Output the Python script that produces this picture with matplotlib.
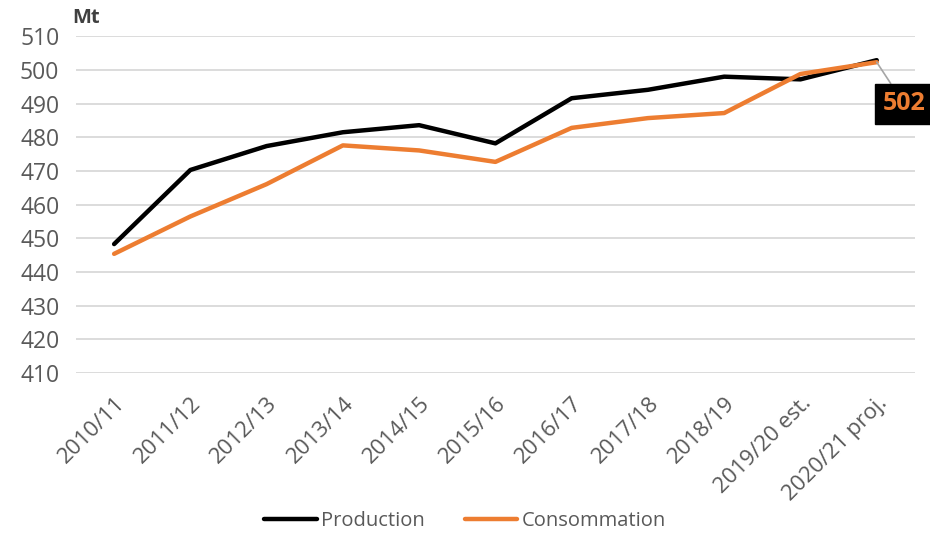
import matplotlib
matplotlib.use("Agg")
import matplotlib.pyplot as plt

categories = ["2010/11", "2011/12", "2012/13", "2013/14", "2014/15", "2015/16",
              "2016/17", "2017/18", "2018/19", "2019/20 est.", "2020/21 proj."]
production = [448.3, 470.3, 477.4, 481.5, 483.6, 478.2, 491.6, 494.1, 498.0, 497.2, 502.9]
consommation = [445.4, 456.5, 466.1, 477.6, 476.1, 472.7, 482.8, 485.7, 487.2, 498.8, 502.3]
yticks = list(range(410, 520, 10))
label_text = "502"

plt.rcParams['font.family'] = ['Open Sans', 'DejaVu Sans']
grey = "#595959"
orange = "#ED7D31"

fig = plt.figure(figsize=(9.3, 5.33), dpi=100)
ax = fig.add_axes([0.0817, 0.300, 0.902, 0.632])
x = list(range(len(categories)))
ax.plot(x, production, color="black", lw=3.2, label="Production", solid_capstyle="round", zorder=3)
ax.plot(x, consommation, color=orange, lw=3.2, label="Consommation", solid_capstyle="round", zorder=4)

ax.set_xlim(-0.5, len(categories) - 0.5)
ax.set_ylim(410, 510)
ax.set_yticks(yticks)
ax.set_yticklabels([str(v) for v in yticks], fontsize=16.5, color=grey)
ax.set_xticks(x)
ax.set_xticklabels(categories, rotation=45, ha="right", rotation_mode="anchor",
                   fontsize=16, color=grey)
ax.tick_params(axis="y", length=0, pad=12)
ax.tick_params(axis="x", length=0, pad=14)
for s in ax.spines.values():
    s.set_visible(False)
ax.grid(axis="y", color="#D9D9D9", lw=1.3)
ax.set_axisbelow(True)

ax.text(-0.004, 1.025, "Mt", transform=ax.transAxes,
        fontsize=14.5, fontweight="bold", color="#404040", ha="left", va="bottom")

# data label
last = len(categories) - 1
ax.annotate(label_text, xy=(last, consommation[-1]), xytext=(last + 0.36, 489.9),
            fontsize=18, fontweight="bold", color=orange, ha="center", va="center",
            bbox=dict(boxstyle="square,pad=0.3", fc="black", ec="black"),
            arrowprops=dict(arrowstyle="-", color="#A6A6A6", lw=1.2,
                            shrinkA=0, shrinkB=0),
            annotation_clip=False, zorder=5)

leg = fig.legend(loc="lower center", bbox_to_anchor=(0.5, -0.03), ncol=2, frameon=False,
                 fontsize=14.5, handlelength=2.6, handletextpad=0.2, columnspacing=2.0)
for t in leg.get_texts():
    t.set_color(grey)

fig.savefig("out.png", dpi=100)
